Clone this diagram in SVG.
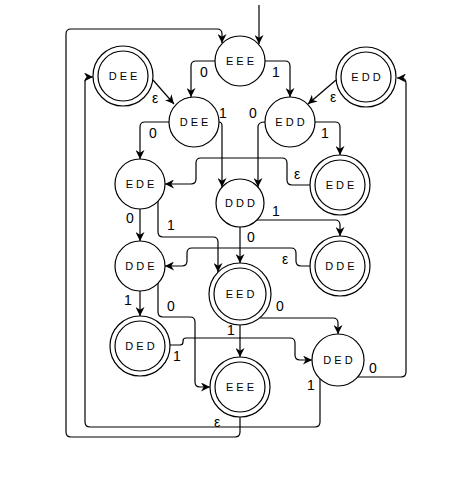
<svg xmlns="http://www.w3.org/2000/svg" width="461" height="492" viewBox="0 0 461 492">
<style>
.n{fill:#fff;stroke:#000;stroke-width:1.2}
.t{font-family:"Liberation Sans",Arial,sans-serif;font-size:11px;text-anchor:middle;fill:#000}
.e{fill:none;stroke:#000;stroke-width:1.2;marker-end:url(#a)}
.l{font-family:"Liberation Sans",Arial,sans-serif;font-size:14px;text-anchor:middle;fill:#000}
</style>
<defs>
<marker id="a" viewBox="0 0 10 10" refX="10" refY="5" markerWidth="9" markerHeight="9" markerUnits="userSpaceOnUse" orient="auto">
<path d="M0,0 L10,5 L0,10 L3,5 z" fill="#000"/>
</marker>
</defs>
<rect width="461" height="492" fill="#fff"/>
<g id="edges">
<path class="e" d="M259,5 V44"/>
<path class="e" d="M240,417 V432 Q240,437 235,437 H71 Q66,437 66,432 V34 Q66,29 71,29 H217 Q222,29 222,34 V43"/>
<path class="e" d="M215,61 H196 Q191,61 191,66 V97"/>
<path class="e" d="M265,61 H285 Q290,61 290,66 V97"/>
<path class="e" d="M153,80 L174,104"/>
<path class="e" d="M336,80 L308,104"/>
<path class="e" d="M169,122 H145 Q140,122 140,127 V159"/>
<path class="e" d="M219,122 Q222,122 222,126 V187"/>
<path class="e" d="M265,122 Q258,122 258,127 V187"/>
<path class="e" d="M315,122 H335 Q340,122 340,127 V155"/>
<path class="e" d="M310,185 H292 Q287,185 287,180 V163 Q287,158 282,158 H201 Q196,158 196,163 V179 Q196,184 191,184 H165"/>
<path class="e" d="M140,209 V241"/>
<path class="e" d="M158,201 V232 Q158,237 163,237 H213 Q218,237 218,242 V272"/>
<path class="e" d="M240,227 V263"/>
<path class="e" d="M257,220 H335 Q340,220 340,225 V236"/>
<path class="e" d="M310,266 H301 Q296,266 296,261 V253 Q296,248 291,248 H192 Q187,248 187,253 V261 Q187,266 182,266 H165"/>
<path class="e" d="M140,291 V316"/>
<path class="e" d="M158,283 V312 Q158,317 163,317 H190 Q195,317 195,322 V382 Q195,387 200,387 H210"/>
<path class="e" d="M240,325 V357"/>
<path class="e" d="M260,318 H333 Q338,318 338,323 V334"/>
<path class="e" d="M170,345 H180 Q183,345 183,342 V341 Q183,338 186,338 H290 Q295,338 295,343 V355 Q295,360 300,360 H312"/>
<path class="e" d="M358,377 H401 Q406,377 406,372 V83 Q406,78 401,78 H397"/>
<path class="e" d="M320,379 V422 Q320,427 315,427 H90 Q85,427 85,422 V82 Q85,77 90,77 H93"/>
</g>
<g id="labels">
<text class="l" x="204" y="77">0</text>
<text class="l" x="276" y="77">1</text>
<text class="l" x="155" y="103">ε</text>
<text class="l" x="333" y="102">ε</text>
<text class="l" x="153" y="138">0</text>
<text class="l" x="223" y="118">1</text>
<text class="l" x="253" y="118">0</text>
<text class="l" x="325" y="138">1</text>
<text class="l" x="297" y="179">ε</text>
<text class="l" x="130" y="223">0</text>
<text class="l" x="171" y="230">1</text>
<text class="l" x="251" y="242">0</text>
<text class="l" x="276" y="216">1</text>
<text class="l" x="285" y="264">ε</text>
<text class="l" x="128" y="305">1</text>
<text class="l" x="171" y="311">0</text>
<text class="l" x="231" y="335">1</text>
<text class="l" x="280" y="311">0</text>
<text class="l" x="177" y="361">1</text>
<text class="l" x="373" y="373">0</text>
<text class="l" x="311" y="390">1</text>
<text class="l" x="217" y="427">ε</text>
</g>
<g id="n_EEE"><circle class="n" cx="240" cy="61" r="25"/><text class="t" x="240" y="65">E E E</text></g>
<g id="n_DEE_acc"><circle class="n" cx="123" cy="76" r="30"/><circle class="n" cx="123" cy="76" r="25"/><text class="t" x="123" y="80">D E E</text></g>
<g id="n_EDD_acc"><circle class="n" cx="366" cy="77" r="30"/><circle class="n" cx="366" cy="77" r="25"/><text class="t" x="366" y="81">E D D</text></g>
<g id="n_DEE"><circle class="n" cx="194" cy="122" r="25"/><text class="t" x="194" y="126">D E E</text></g>
<g id="n_EDD"><circle class="n" cx="290" cy="122" r="25"/><text class="t" x="290" y="126">E D D</text></g>
<g id="n_EDE"><circle class="n" cx="140" cy="184" r="25"/><text class="t" x="140" y="188">E D E</text></g>
<g id="n_EDE_acc"><circle class="n" cx="340" cy="185" r="30"/><circle class="n" cx="340" cy="185" r="25"/><text class="t" x="340" y="189">E D E</text></g>
<g id="n_DDD"><circle class="n" cx="240" cy="203" r="24"/><text class="t" x="240" y="207">D D D</text></g>
<g id="n_DDE"><circle class="n" cx="140" cy="266" r="25"/><text class="t" x="140" y="270">D D E</text></g>
<g id="n_DDE_acc"><circle class="n" cx="340" cy="266" r="30"/><circle class="n" cx="340" cy="266" r="25"/><text class="t" x="340" y="270">D D E</text></g>
<g id="n_EED_acc"><circle class="n" cx="240" cy="294" r="31"/><circle class="n" cx="240" cy="294" r="26"/><text class="t" x="240" y="298">E E D</text></g>
<g id="n_DED_acc"><circle class="n" cx="140" cy="346" r="30"/><circle class="n" cx="140" cy="346" r="25"/><text class="t" x="140" y="350">D E D</text></g>
<g id="n_EEE_acc"><circle class="n" cx="240" cy="387" r="30"/><circle class="n" cx="240" cy="387" r="25"/><text class="t" x="240" y="391">E E E</text></g>
<g id="n_DED"><circle class="n" cx="338" cy="360" r="26"/><text class="t" x="338" y="364">D E D</text></g>
</svg>
